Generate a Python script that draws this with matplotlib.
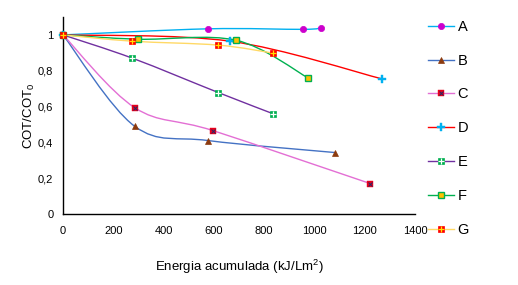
import matplotlib
matplotlib.use("Agg")
import matplotlib.pyplot as plt
import numpy as np
from matplotlib.path import Path
from matplotlib.patches import PathPatch
from matplotlib.lines import Line2D
from matplotlib.legend_handler import HandlerTuple

plt.rcParams['font.family'] = ['Liberation Sans', 'DejaVu Sans']
plt.rcParams['mathtext.default'] = 'regular'

series_names = ['A', 'B', 'C', 'D', 'E', 'F', 'G']
A_x = [0, 577, 955, 1027]
A_y = [1.0, 1.034, 1.031, 1.04]
B_x = [0, 285, 578, 1083]
B_y = [1.0, 0.49, 0.41, 0.343]
C_x = [0, 286, 598, 1222]
C_y = [1.0, 0.593, 0.465, 0.17]
D_x = [0, 664, 1270]
D_y = [1.0, 0.965, 0.754]
E_x = [0, 276, 618, 837]
E_y = [1.0, 0.87, 0.678, 0.559]
F_x = [0, 300, 689, 976]
F_y = [1.0, 0.976, 0.97, 0.759]
G_x = [0, 276, 618, 837]
G_y = [1.0, 0.965, 0.943, 0.898]

x_ticks = [0, 200, 400, 600, 800, 1000, 1200, 1400]
y_ticks = [0, 0.2, 0.4, 0.6, 0.8, 1.0]
y_tick_labels = ['0', '0,2', '0,4', '0,6', '0,8', '1']

xs_all = [A_x, B_x, C_x, D_x, E_x, F_x, G_x]
ys_all = [A_y, B_y, C_y, D_y, E_y, F_y, G_y]

line_colors = ['#00B0F0', '#4472C4', '#E36FD4', '#FF0000', '#7030A0', '#00B050', '#FFD966']

# marker specs: list of layers (marker, size, face, edge, mew)
marker_layers = [
    [('o', 4.5, '#CC00CC', '#CC00CC', 0.5)],
    [('^', 5, '#8B3A0F', '#8B3A0F', 0.5)],
    [('s', 5, '#E8001C', '#E8001C', 0.3), ('x', 3.2, 'none', '#1F2A6B', 0.7)],
    [('P', 5.5, '#00B0F0', '#00B0F0', 0.3)],
    [('s', 5, '#00B050', '#00B050', 0.5), ('+', 5, 'none', 'white', 0.9)],
    [('s', 5, '#FFC000', '#00B050', 1.0)],
    [('s', 5, '#FF0000', '#FF0000', 0.5), ('+', 5, 'none', '#FFE000', 0.9)],
]


def smooth_path(xs, ys):
    P = np.column_stack([xs, ys]).astype(float)
    n = len(P)
    verts = [P[0]]
    codes = [Path.MOVETO]
    for i in range(n - 1):
        p0 = P[i - 1] if i > 0 else P[i]
        p1 = P[i]
        p2 = P[i + 1]
        p3 = P[i + 2] if i + 2 < n else P[i + 1]
        c1 = p1 + (p2 - p0) / 6.0
        c2 = p2 - (p3 - p1) / 6.0
        verts += [c1, c2, p2]
        codes += [Path.CURVE4] * 3
    return Path(verts, codes)


fig = plt.figure(figsize=(5.18, 2.85), dpi=100)
ax = fig.add_axes([63 / 518, 1 - 214 / 285, (415 - 63) / 518, (214 - 17) / 285])

handles = []
for k in range(7):
    patch = PathPatch(smooth_path(xs_all[k], ys_all[k]), fill=False,
                      edgecolor=line_colors[k], lw=1.0, zorder=2 + k * 0.1)
    ax.add_patch(patch)
    layer_handles = []
    for j, (m, s, fc, ec, mew) in enumerate(marker_layers[k]):
        ax.plot(xs_all[k], ys_all[k], linestyle='none', marker=m, markersize=s,
                markerfacecolor=fc, markeredgecolor=ec, markeredgewidth=mew,
                zorder=4 + k * 0.1 + j * 0.01, clip_on=False)
        if j == 0:
            layer_handles.append(Line2D([], [], color=line_colors[k], lw=1.0, marker=m,
                                        markersize=s, markerfacecolor=fc,
                                        markeredgecolor=ec, markeredgewidth=mew))
        else:
            layer_handles.append(Line2D([], [], linestyle='none', marker=m, markersize=s,
                                        markerfacecolor=fc, markeredgecolor=ec,
                                        markeredgewidth=mew))
    handles.append(tuple(layer_handles) if len(layer_handles) > 1 else layer_handles[0])

ax.set_xlim(0, 1400)
ax.set_ylim(0, 1.1)
ax.set_xticks(x_ticks)
ax.set_xticklabels([str(v) for v in x_ticks])
ax.set_yticks(y_ticks)
ax.set_yticklabels(y_tick_labels)
ax.tick_params(axis='x', length=0, labelsize=8, pad=9)
ax.tick_params(axis='y', length=0, labelsize=8, pad=7)
for sp in ['top', 'right']:
    ax.spines[sp].set_visible(False)
for sp in ['left', 'bottom']:
    ax.spines[sp].set_linewidth(1.0)
    ax.spines[sp].set_color('black')

ax.set_xlabel('Energia acumulada (kJ/Lm$^{2}$)', fontsize=9.5, labelpad=15)
ax.set_ylabel('COT/COT$_{0}$', fontsize=9.5, labelpad=1)

leg = fig.legend(handles, series_names, loc='upper left',
                 bbox_to_anchor=(422 / 518, 1 - 14 / 285), frameon=False,
                 fontsize=10.5, handlelength=1.8, handletextpad=0.25,
                 labelspacing=1.36, borderaxespad=0,
                 handler_map={tuple: HandlerTuple(ndivide=1)})

fig.savefig('out.png', dpi=100)
